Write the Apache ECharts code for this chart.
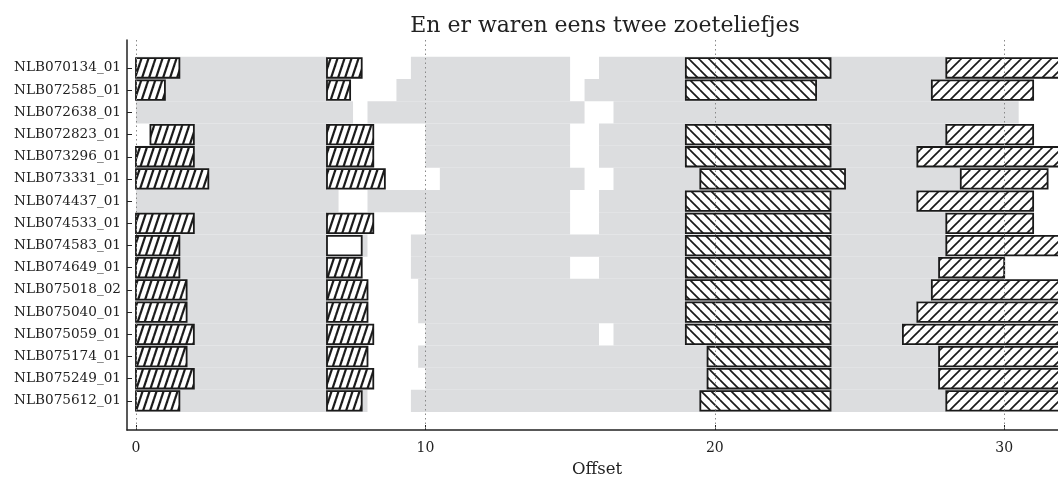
<!DOCTYPE html>
<html>
<head>
<meta charset="utf-8">
<script src="https://cdn.jsdelivr.net/npm/echarts@6/dist/echarts.min.js"></script>
<style>html,body{margin:0;padding:0;background:#fff}#c{width:1058px;height:480px}</style>
</head>
<body>
<div id="c"></div>
<script>
// ---- data ----
const rowNames = ['NLB070134_01','NLB072585_01','NLB072638_01','NLB072823_01','NLB073296_01','NLB073331_01','NLB074437_01','NLB074533_01','NLB074583_01','NLB074649_01','NLB075018_02','NLB075040_01','NLB075059_01','NLB075174_01','NLB075249_01','NLB075612_01'];
const xTicks = [0, 10, 20, 30];
// [row, start, end]
const graySegments = [
  [0,0,6.6],[0,9.5,15],[0,16,28],
  [1,0,6.6],[1,9,15],[1,15.5,27.5],
  [2,0,7.5],[2,8,15.5],[2,16.5,30.5],
  [3,0.5,6.6],[3,10,15],[3,16,28],
  [4,0,6.6],[4,10,15],[4,16,27],
  [5,0,6.6],[5,10.5,15.5],[5,16.5,28.5],
  [6,0,7],[6,8,15],[6,16,27],
  [7,0,6.6],[7,10,15],[7,16,28],
  [8,0,8],[8,9.5,28],
  [9,0,6.6],[9,9.5,15],[9,16,27.75],
  [10,0,6.6],[10,9.75,27.5],
  [11,0,6.6],[11,9.75,27],
  [12,0,6.6],[12,10,16],[12,16.5,26.5],
  [13,0,6.6],[13,9.75,27.75],
  [14,0,6.6],[14,10,27.75],
  [15,0,8],[15,9.5,28]
];
const steepBars = [
  [0,0,1.5],[1,0,1],[3,0.5,2],[4,0,2],[5,0,2.5],[7,0,2],[8,0,1.5],[9,0,1.5],
  [10,0,1.75],[11,0,1.75],[12,0,2],[13,0,1.75],[14,0,2],[15,0,1.5],
  [0,6.6,7.8],[1,6.6,7.4],[3,6.6,8.2],[4,6.6,8.2],[5,6.6,8.6],[7,6.6,8.2],[9,6.6,7.8],
  [10,6.6,8],[11,6.6,8],[12,6.6,8.2],[13,6.6,8],[14,6.6,8.2],[15,6.6,7.8]
];
const plainBars = [[8,6.6,7.8]];
const backBars = [
  [0,19,24],[1,19,23.5],[3,19,24],[4,19,24],[5,19.5,24.5],[6,19,24],[7,19,24],
  [8,19,24],[9,19,24],[10,19,24],[11,19,24],[12,19,24],[13,19.75,24],[14,19.75,24],[15,19.5,24]
];
const fwdBars = [
  [0,28,32.5],[1,27.5,31],[3,28,31],[4,27,32.5],[5,28.5,31.5],[6,27,31],[7,28,31],
  [8,28,32.5],[9,27.75,30],[10,27.5,32.5],[11,27,32.5],[12,26.5,32.5],[13,27.75,32.5],[14,27.75,32.5],[15,28,32.5]
];

// ---- hatch patterns ----
function hatch(w, h, dir, lw) {
  const c = document.createElement('canvas');
  c.width = w; c.height = h;
  const g = c.getContext('2d');
  g.fillStyle = '#fff'; g.fillRect(0, 0, w, h);
  g.strokeStyle = '#1a1a1a'; g.lineWidth = lw;
  for (let dx = -1; dx <= 1; dx++) {
    for (let dy = -1; dy <= 1; dy++) {
      g.beginPath();
      if (dir > 0) { g.moveTo(dx*w, h + dy*h); g.lineTo(w + dx*w, dy*h); }
      else { g.moveTo(dx*w, dy*h); g.lineTo(w + dx*w, h + dy*h); }
      g.stroke();
    }
  }
  return { image: c, repeat: 'repeat' };
}
const patSteep = hatch(7, 21, 1, 2.2);
const patFwd = hatch(10, 10, 1, 1.7);
const patBack = hatch(10, 10, -1, 1.7);

function maker(fill, stroke, hFrac, lw) {
  return function (params, api) {
    const row = api.value(0), s = api.value(1), e = api.value(2);
    const p0 = api.coord([s, row]);
    const p1 = api.coord([e, row]);
    const h = api.size([0, 1])[1] * hFrac;
    return {
      type: 'rect',
      shape: { x: p0[0], y: p0[1] - h / 2, width: p1[0] - p0[0], height: h },
      style: { fill: fill, stroke: stroke, lineWidth: lw }
    };
  };
}

const chart = echarts.init(document.getElementById('c'), null, { renderer: 'canvas' });
const serif = 'DejaVu Serif';
chart.setOption({
  animation: false,
  title: {
    text: 'En er waren eens twee zoeteliefjes',
    left: 600, top: 10, textAlign: 'center',
    textStyle: { fontFamily: serif, fontSize: 22, fontWeight: 'normal', color: '#222' }
  },
  grid: { left: 127, top: 40, width: 940, height: 390, containLabel: false, outerBoundsMode: 'none' },
  xAxis: {
    type: 'value', min: -0.31, max: 32.17,
    name: 'Offset', nameLocation: 'middle', nameGap: 31,
    nameTextStyle: { fontFamily: serif, fontSize: 16.5, color: '#222' },
    axisLine: { show: true, onZero: false, lineStyle: { color: '#222', width: 1.5 } },
    axisTick: { show: true, inside: true, length: 5, customValues: xTicks, lineStyle: { color: '#222' } },
    axisLabel: { customValues: xTicks, fontFamily: serif, fontSize: 14, color: '#222', margin: 11 },
    splitLine: { show: false }
  },
  yAxis: {
    type: 'value', inverse: true, min: -1.26, max: 16.31,
    axisLine: { show: true, onZero: false, lineStyle: { color: '#222', width: 1.5 } },
    axisTick: { show: true, inside: true, length: 5, customValues: rowNames.map((_, i) => i), lineStyle: { color: '#222' } },
    axisLabel: {
      customValues: rowNames.map((_, i) => i),
      formatter: v => rowNames[Math.round(v)] || '',
      fontFamily: serif, fontSize: 13.6, color: '#222', margin: 6
    },
    splitLine: { show: false }
  },
  series: [
    {
      type: 'custom', renderItem: maker('#dcdddf', null, 1.0, 0),
      data: graySegments, encode: { x: [1, 2], y: 0 }, z: 1,
      markLine: {
        silent: true, symbol: 'none', label: { show: false },
        lineStyle: { type: [1.5, 3], color: '#888', width: 1 },
        data: xTicks.map(v => ({ xAxis: v }))
      }
    },
    { type: 'custom', renderItem: maker(patSteep, '#1a1a1a', 0.88, 1.8), data: steepBars, encode: { x: [1, 2], y: 0 }, z: 3 },
    { type: 'custom', renderItem: maker('#ffffff', '#1a1a1a', 0.88, 1.8), data: plainBars, encode: { x: [1, 2], y: 0 }, z: 3 },
    { type: 'custom', renderItem: maker(patBack, '#1a1a1a', 0.88, 1.8), data: backBars, encode: { x: [1, 2], y: 0 }, z: 3 },
    { type: 'custom', renderItem: maker(patFwd, '#1a1a1a', 0.88, 1.8), data: fwdBars, encode: { x: [1, 2], y: 0 }, z: 3 }
  ]
});
</script>
</body>
</html>
